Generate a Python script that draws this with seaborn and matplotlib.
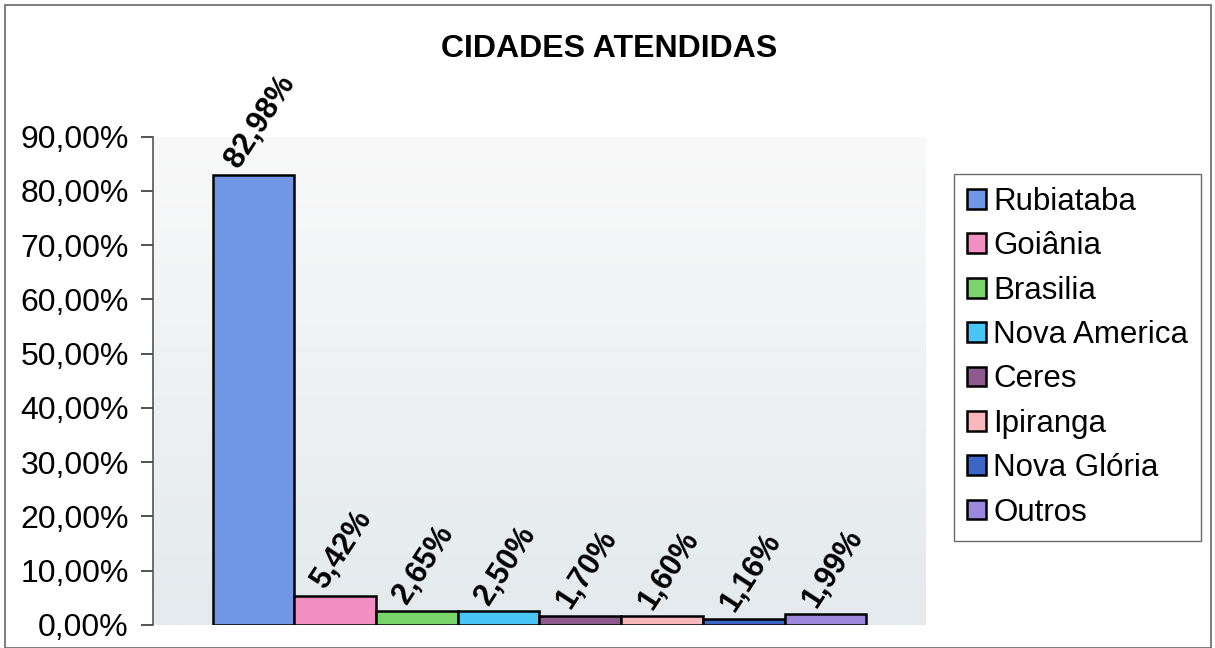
import numpy as np
import pandas as pd
import matplotlib
matplotlib.use("Agg")
import matplotlib.pyplot as plt
from matplotlib.patches import Rectangle
from matplotlib.colors import LinearSegmentedColormap
import seaborn as sns

# Share of clients by city (%)
cidades = ["Rubiataba", "Goiânia", "Brasilia", "Nova America",
           "Ceres", "Ipiranga", "Nova Glória", "Outros"]
percentuais = [82.98, 5.42, 2.65, 2.50, 1.70, 1.60, 1.16, 1.99]
rotulos = ["82,98%", "5,42%", "2,65%", "2,50%", "1,70%", "1,60%", "1,16%", "1,99%"]
cores = ["#7097e6", "#f290c4", "#79d46a", "#4ac6f6",
         "#8c5a8c", "#f9b8bc", "#3d66c6", "#9c88dc"]
yticks = [0, 10, 20, 30, 40, 50, 60, 70, 80, 90]
ytick_labels = ["0,00%", "10,00%", "20,00%", "30,00%", "40,00%",
                "50,00%", "60,00%", "70,00%", "80,00%", "90,00%"]

sns.set_theme(style="white")
plt.rcParams["font.family"] = ["Liberation Sans", "DejaVu Sans"]
plt.rcParams["text.color"] = "black"
plt.rcParams["ytick.color"] = "black"

df = pd.DataFrame({"grupo": [""] * len(cidades), "cidade": cidades,
                   "pct": percentuais})

fig = plt.figure(figsize=(12.15, 6.48), dpi=100)
ax = fig.add_axes([0.126, 0.0355, 0.636, 0.7535])

# soft vertical gradient behind the bars
grad = LinearSegmentedColormap.from_list("bg", ["#e4eaed", "#f9f9f9"])
ax.imshow(np.linspace(0, 1, 256).reshape(-1, 1), cmap=grad, aspect="auto",
          origin="lower", extent=[0, 1, 0, 1], transform=ax.transAxes,
          zorder=0)

sns.barplot(data=df, x="grupo", y="pct", hue="cidade", hue_order=cidades,
            palette=cores, width=0.846, gap=0, saturation=1,
            edgecolor="black", linewidth=1.8, ax=ax, zorder=2, legend=True)

ax.set_xlim(-0.5, 0.5)
ax.set_ylim(0, 90)
ax.set_yticks(yticks)
ax.set_yticklabels(ytick_labels, fontsize=23, color="black")
ax.set_xticks([])
ax.set_xlabel("")
ax.set_ylabel("")
ax.tick_params(axis="y", direction="out", length=9, width=1.2,
               color="#333333", left=True, pad=8.5)
for side in ["top", "right", "bottom"]:
    ax.spines[side].set_visible(False)
ax.spines["left"].set_color("#555555")
ax.spines["left"].set_linewidth(1.2)

# rotated value labels above each bar
for cont, txt in zip(ax.containers, rotulos):
    for bar in cont:
        cx = bar.get_x() + bar.get_width() / 2
        ax.annotate(txt, (cx, bar.get_height()), xytext=(5, 1),
                    textcoords="offset points", ha="center", va="bottom",
                    rotation=57, fontsize=22, fontweight="bold",
                    color="black", annotation_clip=False, zorder=3)

leg = ax.legend(loc="upper left", bbox_to_anchor=(1.036, 0.924), fontsize=22.5,
                frameon=True, fancybox=False, edgecolor="#444444",
                handlelength=0.6, handleheight=0.6, handletextpad=0.25,
                labelspacing=0.46, borderpad=0.42, borderaxespad=0)
leg.get_frame().set_linewidth(1.0)
for t in leg.get_texts():
    t.set_color("black")
for h in leg.legend_handles:
    h.set_edgecolor("black")
    h.set_linewidth(1.8)

fig.text(0.501, 0.925, "CIDADES ATENDIDAS", ha="center", va="center",
         fontsize=23, fontweight="bold", color="black")

# outer chart frame
fig.patches.append(Rectangle((0.004, 0.0), 0.993, 0.992, transform=fig.transFigure,
                             fill=False, edgecolor="#666666", linewidth=1.2))

fig.savefig("out.png", dpi=100, facecolor="white")
